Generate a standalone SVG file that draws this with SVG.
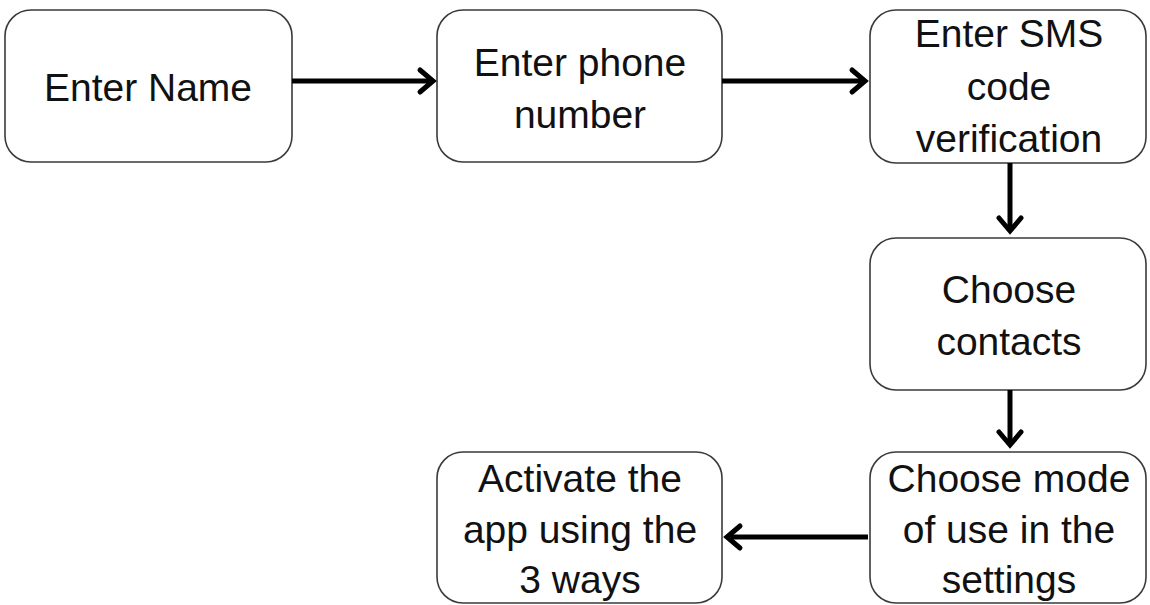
<svg xmlns="http://www.w3.org/2000/svg" width="1150" height="605" viewBox="0 0 1150 605">
<style>
.box{fill:#ffffff;stroke:#3a3a3a;stroke-width:1.6}
.t{font-family:"Liberation Sans",Arial,sans-serif;font-size:39px;fill:#111;text-anchor:middle}
.c{stroke:#000;stroke-width:5;fill:none}
.h{stroke:#000;stroke-width:5;fill:none;stroke-linecap:round;stroke-linejoin:miter}
</style>
<rect width="1150" height="605" fill="#ffffff"/>
<g id="n1"><rect class="box" x="5" y="10" width="287" height="152" rx="26"/><text class="t" x="148" y="101">Enter Name</text></g>
<g id="n2"><rect class="box" x="437" y="10" width="285" height="152" rx="26"/><text class="t" x="580" y="76">Enter phone</text><text class="t" x="580" y="128">number</text></g>
<g id="n3"><rect class="box" x="870" y="10" width="276" height="153" rx="26"/><text class="t" x="1009" y="47">Enter SMS</text><text class="t" x="1009" y="100">code</text><text class="t" x="1009" y="152">verification</text></g>
<g id="n4"><rect class="box" x="870" y="238" width="276" height="152" rx="26"/><text class="t" x="1009" y="303">Choose</text><text class="t" x="1009" y="355">contacts</text></g>
<g id="n5"><rect class="box" x="870" y="452" width="276" height="151" rx="26"/><text class="t" x="1009" y="492">Choose mode</text><text class="t" x="1009" y="543">of use in the</text><text class="t" x="1009" y="593">settings</text></g>
<g id="n6"><rect class="box" x="437" y="452" width="285" height="151" rx="26"/><text class="t" x="580" y="492">Activate the</text><text class="t" x="580" y="543">app using the</text><text class="t" x="580" y="593">3 ways</text></g>
<g id="connectors">
<line class="c" x1="292" y1="81" x2="432" y2="81"/><polyline class="h" points="420,70 433,81 420,92"/>
<line class="c" x1="722" y1="81" x2="864" y2="81"/><polyline class="h" points="852,70 865,81 852,92"/>
<line class="c" x1="1010" y1="163" x2="1010" y2="230"/><polyline class="h" points="999,218 1010,231 1021,218"/>
<line class="c" x1="1010" y1="390" x2="1010" y2="444"/><polyline class="h" points="999,432 1010,445 1021,432"/>
<line class="c" x1="868" y1="537" x2="728" y2="537"/><polyline class="h" points="740,526 727,537 740,548"/>
</g>
</svg>
